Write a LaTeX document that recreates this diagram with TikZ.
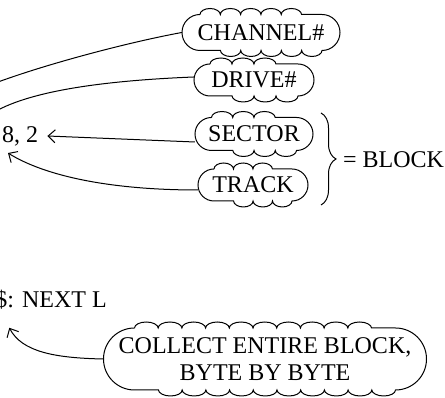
\documentclass[tikz,border=0pt]{standalone}
\usepackage{fontspec}
\setmainfont{Liberation Serif}
\usetikzlibrary{decorations.pathmorphing,decorations.pathreplacing,arrows.meta,calc}
\tikzset{
  cloudline/.style={line width=1pt},
  cloudtext/.style={inner sep=0pt,font=\fontsize{24}{27}\selectfont,align=center},
  txt/.style={inner sep=3pt,font=\fontsize{24}{27}\selectfont},
  conn/.style={line width=1pt},
  arr/.style={line width=1pt,-{Straight Barb[length=7pt,width=13pt]}},
  bracestyle/.style={line width=1pt,decorate,decoration={brace,amplitude=15pt,aspect=0.5}}
}
% #1 name, #2 cx, #3 cy, #4 width, #5 body height, #6 bumps, #7 text
\newcommand\cloudbox[7]{%
  \node[cloudtext,minimum width=#4pt,minimum height=#5pt] (#1) at (#2,#3) {#7};
  \pgfmathsetmacro\cbR{#5/2}%
  \pgfmathsetmacro\cbL{#4-#5}%
  \pgfmathsetmacro\cbS{1.998*\cbL/#6}%
  \draw[cloudline] (#2-\cbL/2,#3+\cbR)
    decorate[decoration={bumps,segment length=\cbS pt,amplitude=6pt}]{-- ++(\cbL,0)}
    arc[start angle=90,end angle=-90,radius=\cbR pt]
    decorate[decoration={bumps,segment length=\cbS pt,amplitude=6pt}]{-- ++(-\cbL,0)}
    arc[start angle=270,end angle=90,radius=\cbR pt] -- cycle;
}
\begin{document}
\begin{tikzpicture}[x=1pt,y=1pt]
\useasboundingbox (0,0) rectangle (445,398);
\clip (0,0) rectangle (445,398);
\fill[white] (0,0) rectangle (445,398);

\cloudbox{channel}{261}{365.5}{158}{36}{6}{CHANNEL\#}
\cloudbox{drive}{254}{318}{120}{32}{4}{DRIVE\#}
\cloudbox{sector}{254}{264}{118}{33}{4}{SECTOR}
\cloudbox{track}{253}{213}{110}{32}{4}{TRACK}
\cloudbox{collect}{265}{39}{323}{62}{11}{COLLECT ENTIRE BLOCK,\\BYTE BY BYTE}

\node[txt,anchor=west] (n82) at (-1,262) {8, 2};
\node[txt,anchor=west] (block) at (340,238.5) {= BLOCK};
\node[txt,anchor=east] (nextl) at (110,98) {\$: NEXT L};

\coordinate (brtop) at (321,285);
\coordinate (brbot) at (321,193);
\draw[bracestyle] (brtop) -- (brbot);

\coordinate (chanend) at (-2,316);
\coordinate (driveend) at (-2,288);
\draw[conn] (channel.west) .. controls (130,356) and (50,335) .. (chanend);
\draw[conn] ([yshift=3pt]drive.west) .. controls (120,318) and (40,310) .. (driveend);

\draw[arr] ([yshift=-8pt]sector.west) -- ([xshift=6pt]n82.east);
\draw[arr] ([yshift=-5pt]track.west) .. controls (110,208) and (45,222) .. ([shift={(9pt,-4pt)}]n82.south west);
\draw[arr] (collect.west) .. controls (55,40) and (22,46) .. ([shift={(17pt,-15pt)}]nextl.south west);
\end{tikzpicture}
\end{document}
